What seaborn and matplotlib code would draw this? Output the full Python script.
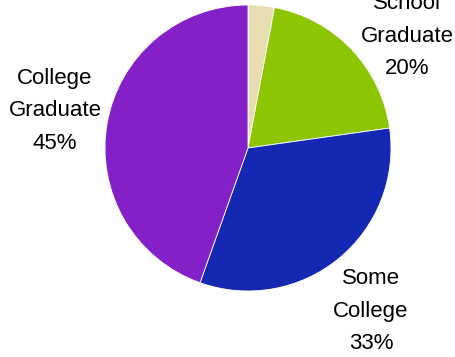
import matplotlib
matplotlib.use("Agg")
import matplotlib.pyplot as plt
import seaborn as sns

sns.set_theme(style="white")
plt.rcParams['font.family'] = ['Liberation Sans', 'DejaVu Sans']

categories = ["Less than\nHigh School", "High\nSchool\nGraduate", "Some\nCollege", "College\nGraduate"]
values = [3, 20, 33, 45]
pct_labels = ["3%", "20%", "33%", "45%"]
colors = ["#E8DDB0", "#8DC502", "#1428B4", "#8420C8"]

W, H = 456, 357
fig = plt.figure(figsize=(W / 100, H / 100), dpi=100)
ax = fig.add_axes([0, 0, 1, 1])

labels = [f"{c}\n{p}" for c, p in zip(categories, pct_labels)]
wedges, texts = ax.pie(values, labels=labels, colors=colors, startangle=90,
                       counterclock=False, center=(248, H - 148), radius=143,
                       labeldistance=1.41, frame=True,
                       wedgeprops=dict(linewidth=0.6, edgecolor="white"),
                       textprops=dict(fontsize=16, color="black", linespacing=1.7))
# label anchor points (pixels from top-left)
label_xy = [(262, -120), (407, 20), (371, 311), (55, 111)]
for t, (lx, ly) in zip(texts, label_xy):
    t.set_position((lx, H - ly))
    t.set_ha("center")
    t.set_va("center")
    t.set_multialignment("center")
ax.set_xlim(0, W)
ax.set_ylim(0, H)
ax.set_aspect("equal")
ax.axis("off")

fig.savefig("out.png", dpi=100)
